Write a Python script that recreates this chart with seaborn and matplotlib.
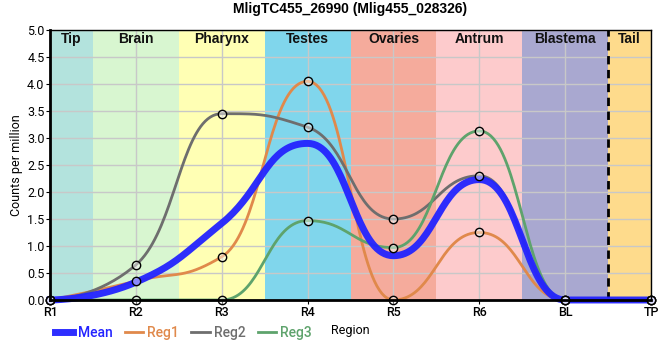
import numpy as np
import pandas as pd
import matplotlib.pyplot as plt
import seaborn as sns

# values
regions = ['R1', 'R2', 'R3', 'R4', 'R5', 'R6', 'BL', 'TP']
reg1 = [0, 0.35, 0.8, 4.05, 0, 1.25, 0, 0]
reg2 = [0, 0.65, 3.45, 3.2, 1.5, 2.3, 0, 0]
reg3 = [0, 0, 0, 1.47, 0.97, 3.13, 0, 0]
mean = [0, 0.33, 1.42, 2.9, 0.82, 2.23, 0, 0]

bands = ['Tip', 'Brain', 'Pharynx', 'Testes', 'Ovaries', 'Antrum', 'Blastema', 'Tail']
band_colors = ['#b3e3dd', '#d8f6d0', '#ffffb4', '#80d6ec', '#f5ab9c',
               '#fdcbcc', '#a9a8d0', '#fedb8c']

series = {'Mean': mean, 'Reg1': reg1, 'Reg2': reg2, 'Reg3': reg3}
colors = {'Mean': '#2323ff', 'Reg1': '#e0894b', 'Reg2': '#6e6e6e', 'Reg3': '#5ea36c'}


def spline(x, y, n=40, smoothing=1.1):
    # bezier spline with flattened extremes
    x = np.asarray(x, float)
    y = np.asarray(y, float)
    k = len(x)
    lc = [(x[i], y[i]) for i in range(k)]
    rc = [(x[i], y[i]) for i in range(k)]
    d = smoothing + 1
    for i in range(1, k - 1):
        lx = (smoothing * x[i] + x[i - 1]) / d
        ly = (smoothing * y[i] + y[i - 1]) / d
        rx = (smoothing * x[i] + x[i + 1]) / d
        ry = (smoothing * y[i] + y[i + 1]) / d
        corr = (ry - ly) * (rx - x[i]) / (rx - lx) + y[i] - ry
        ly += corr
        ry += corr
        if ly > y[i - 1] and ly > y[i]:
            ly = max(y[i - 1], y[i])
            ry = 2 * y[i] - ly
        elif ly < y[i - 1] and ly < y[i]:
            ly = min(y[i - 1], y[i])
            ry = 2 * y[i] - ly
        if ry > y[i + 1] and ry > y[i]:
            ry = max(y[i + 1], y[i])
            ly = 2 * y[i] - ry
        elif ry < y[i + 1] and ry < y[i]:
            ry = min(y[i + 1], y[i])
            ly = 2 * y[i] - ry
        lc[i] = (lx, ly)
        rc[i] = (rx, ry)
    t = np.linspace(0, 1, n)
    xs, ys = [], []
    for i in range(k - 1):
        p0 = (x[i], y[i])
        p1 = rc[i]
        p2 = lc[i + 1]
        p3 = (x[i + 1], y[i + 1])
        b = [(1 - t)**3, 3 * t * (1 - t)**2, 3 * t**2 * (1 - t), t**3]
        xs.append(b[0] * p0[0] + b[1] * p1[0] + b[2] * p2[0] + b[3] * p3[0])
        ys.append(b[0] * p0[1] + b[1] * p1[1] + b[2] * p2[1] + b[3] * p3[1])
    return np.concatenate(xs), np.concatenate(ys)


pos = np.arange(len(regions))
rows = []
for name, vals in series.items():
    xs, ys = spline(pos, vals)
    rows.append(pd.DataFrame({'x': xs, 'y': ys, 'series': name}))
curves = pd.concat(rows, ignore_index=True)

pts = pd.DataFrame({'x': np.tile(pos, 3), 'y': reg1 + reg2 + reg3})

fig = plt.figure(figsize=(6.6, 3.6), dpi=100)
ax = fig.add_axes([0.0758, 0.1667, 0.9106, 0.75])

# tissue bands
for i, (lab, col) in enumerate(zip(bands, band_colors)):
    lo = max(i - 0.5, 0)
    hi = min(i + 0.5, len(regions) - 1)
    ax.axvspan(lo, hi, color=col, lw=0, zorder=0)
    ax.text((lo + hi) / 2, 4.96, lab, ha='center', va='top', fontsize=10,
            fontweight='bold', family='Liberation Sans', color='#111111')
ax.axvline(len(regions) - 1.5, color='black', ls=(0, (3, 2)), lw=2, zorder=3)

lw = {'Mean': 5, 'Reg1': 2, 'Reg2': 2, 'Reg3': 2}
for name in ['Reg1', 'Reg2', 'Reg3', 'Mean']:
    d = curves[curves['series'] == name]
    sns.lineplot(data=d, x='x', y='y', color=colors[name], lw=lw[name], ax=ax,
                 sort=False, estimator=None, label=name,
                 zorder=4 if name == 'Mean' else 3, clip_on=False,
                 alpha=0.95 if name == 'Mean' else 1)

sns.scatterplot(data=pts, x='x', y='y', s=36, facecolor=(1, 1, 1, 0.45),
                edgecolor='black', linewidth=1, ax=ax, zorder=5, clip_on=False)

ax.set_xlim(0, len(regions) - 1)
ax.set_ylim(0, 5)
ax.set_xticks(pos)
ax.set_xticklabels(regions)
ax.set_yticks(np.arange(0, 5.01, 0.5))
ax.set_yticklabels([f'{v:.1f}' for v in np.arange(0, 5.01, 0.5)])
ax.set_axisbelow('line')
ax.grid(True, color='#c8c8c8', lw=1)
ax.tick_params(axis='both', labelsize=9, length=3, pad=1)
for lab in ax.get_xticklabels():
    lab.set_fontweight('medium')
    lab.set_family('Roboto')
for lab in ax.get_yticklabels():
    lab.set_family('Roboto')
ax.set_xlabel('Region', fontsize=9, family='Roboto', labelpad=4)
ax.set_ylabel('Counts per million', fontsize=9, family='Roboto', labelpad=3)
ax.set_title('MligTC455_26990 (Mlig455_028326)', fontsize=10, fontweight='bold',
             family='Liberation Sans', pad=12)

for sp in ['left', 'bottom']:
    ax.spines[sp].set_linewidth(2)
for sp in ['top', 'right']:
    ax.spines[sp].set_linewidth(1)
for sp in ax.spines.values():
    sp.set_color('black')
    sp.set_zorder(6)

handles, labels = ax.get_legend_handles_labels()
hmap = dict(zip(labels, handles))
leg_order = ['Mean', 'Reg1', 'Reg2', 'Reg3']
ax.legend([hmap[k] for k in leg_order], leg_order, loc='upper left',
          bbox_to_anchor=(0.065, 0.13), bbox_transform=fig.transFigure,
          ncol=4, frameon=False, handlelength=1.3, handletextpad=0.3,
          columnspacing=0.9, prop={'family': 'Roboto', 'size': 10, 'weight': 'medium'},
          labelcolor=[colors[k] for k in leg_order])

fig.savefig('out.png', dpi=100)
